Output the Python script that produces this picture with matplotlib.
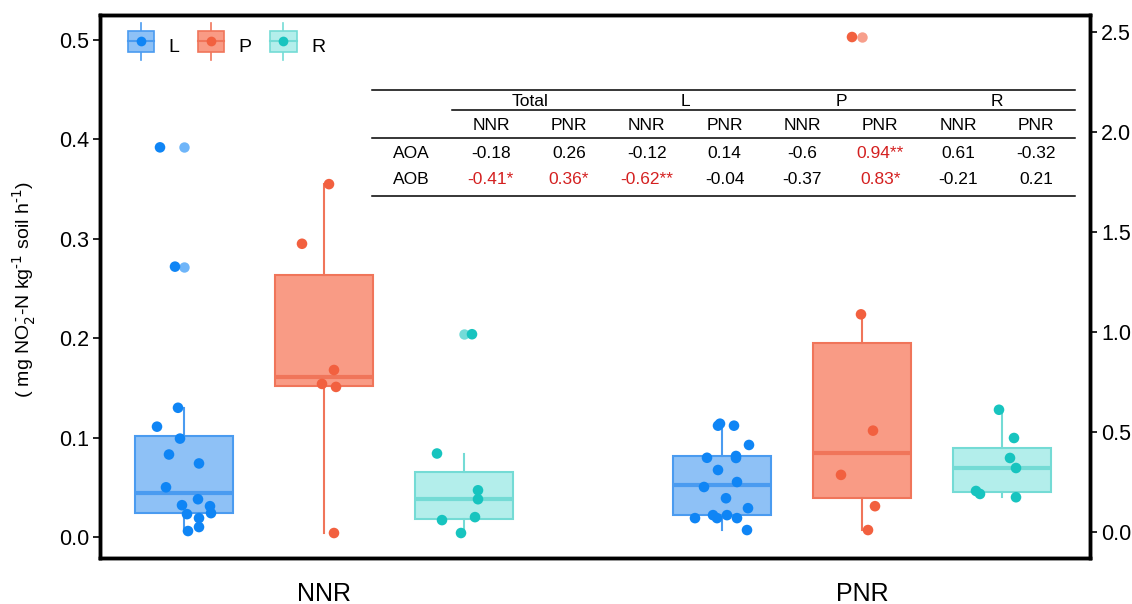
import matplotlib
matplotlib.use("Agg")
import matplotlib.pyplot as plt
from matplotlib.patches import Rectangle
from matplotlib.lines import Line2D
from matplotlib.legend_handler import HandlerBase
import numpy as np

plt.rcParams['font.family'] = ['Liberation Sans', 'DejaVu Sans']

# ---------------- data ----------------
groups = ["NNR", "PNR"]
series = ["L", "P", "R"]

nnr_L = [0.392, 0.272, 0.130, 0.111, 0.099, 0.083, 0.074, 0.050, 0.038, 0.032,
         0.031, 0.024, 0.023, 0.019, 0.010, 0.006]
nnr_P = [0.355, 0.295, 0.168, 0.154, 0.151, 0.004]
nnr_R = [0.204, 0.084, 0.047, 0.038, 0.020, 0.017, 0.004]
pnr_L = [0.114, 0.112, 0.112, 0.0926, 0.0815, 0.0797, 0.0795, 0.0674, 0.0553,
         0.0503, 0.039, 0.029, 0.022, 0.022, 0.019, 0.019, 0.019, 0.007]
pnr_P = [0.503, 0.224, 0.107, 0.0625, 0.031, 0.007]
pnr_R = [0.128, 0.0996, 0.0795, 0.0694, 0.0463, 0.0433, 0.040]

# horizontal jitter of each point (pixels from box centre)
jit_nnr_L = [-24, -9, -6, -27, -4, -15, 15, -18, 14, -2, 26, 27, 3, 15, 15, 4]
jit_nnr_P = [5, -22, 10, -2, 12, 10]
jit_nnr_R = [8, -27, 14, 14, 11, -22, -3]
jit_pnr_L = [-2, -4, 12, 27, 14, -15, 14, -4, 15, -18, 4, 26, -9, 5, -27, -5, 15, 25]
jit_pnr_P = [-10, -1, 11, -21, 13, 6]
jit_pnr_R = [-3, 12, 8, 14, -26, -22, 14]

# correlation table
tab_groups = ["Total", "L", "P", "R"]
tab_sub = ["NNR", "PNR"] * 4
tab_rows = ["AOA", "AOB"]
tab_AOA = ["-0.18", "0.26", "-0.12", "0.14", "-0.6", "0.94**", "0.61", "-0.32"]
tab_AOB = ["-0.41*", "0.36*", "-0.62**", "-0.04", "-0.37", "0.83*", "-0.21", "0.21"]

left_ticks = [0.0, 0.1, 0.2, 0.3, 0.4, 0.5]
right_ticks = [0.0, 0.5, 1.0, 1.5, 2.0, 2.5]

# ---------------- styles ----------------
face = {"L": "#8EC1F6", "P": "#F99B85", "R": "#B3EEEB"}
edge = {"L": "#4A9BF0", "P": "#F0755A", "R": "#74DBD5"}
pt = {"L": "#0F85F5", "P": "#F2603F", "R": "#17C4BF"}

data = {("NNR", "L"): (nnr_L, jit_nnr_L), ("NNR", "P"): (nnr_P, jit_nnr_P),
        ("NNR", "R"): (nnr_R, jit_nnr_R), ("PNR", "L"): (pnr_L, jit_pnr_L),
        ("PNR", "P"): (pnr_P, jit_pnr_P), ("PNR", "R"): (pnr_R, jit_pnr_R)}

PX = 538.0  # pixels per group unit
offsets = {"L": -140 / PX, "P": 0.0, "R": 140 / PX}
box_w = 98 / PX

W, H = 1132, 604
fig = plt.figure(figsize=(W / 100, H / 100), dpi=100)
ax = fig.add_axes([100 / W, 1 - 558 / H, 990 / W, 543 / H])

for gi, g in enumerate(groups):
    for s in series:
        vals, jit = data[(g, s)]
        pos = gi + offsets[s]
        ax.boxplot([vals], positions=[pos], widths=box_w, patch_artist=True,
                   showcaps=False, whis=1.5,
                   boxprops=dict(facecolor=face[s], edgecolor=edge[s], linewidth=1.5),
                   whiskerprops=dict(color=edge[s], linewidth=1.5),
                   medianprops=dict(color=edge[s], linewidth=3),
                   flierprops=dict(marker="o", markerfacecolor=pt[s], markeredgecolor="none",
                                   markersize=7.5, alpha=0.6),
                   manage_ticks=False, zorder=2)
        xs = [pos + j / PX for j in jit]
        ax.scatter(xs, vals, s=58, color=pt[s], edgecolors="none", zorder=3)

ax.set_xlim((100 - 324) / PX, (1090 - 324) / PX)
ax.set_ylim((537 - 558) / 994, (537 - 15) / 994)
ax.set_yticks(left_ticks)
ax.set_yticklabels([f"{v:.1f}" for v in left_ticks])
ax.set_xticks(range(len(groups)))
ax.set_xticklabels(groups, fontsize=18)
ax.tick_params(axis="x", length=0, pad=17)
ax.tick_params(axis="y", direction="out", length=5, width=1.2, labelsize=15.5, pad=3)
for sp in ax.spines.values():
    sp.set_linewidth(2.5)

ax2 = ax.twinx()
ax2.set_ylim((532 - 558) / 200, (532 - 15) / 200)
ax2.set_yticks(right_ticks)
ax2.set_yticklabels([f"{v:.1f}" for v in right_ticks])
ax2.tick_params(axis="y", direction="out", length=5, width=1.2, labelsize=15.5, pad=3)
for sp in ax2.spines.values():
    sp.set_linewidth(2.5)

fig.text(24 / W, 1 - 290 / H, "( mg NO$_2^{\\,\\text{-}}$-N kg$^{\\text{-1}}$ soil h$^{\\text{-1}}$)",
         rotation=90, ha="center", va="center", fontsize=14)


# ---------------- legend ----------------
class BoxKeyHandler(HandlerBase):
    def create_artists(self, legend, orig, xd, yd, width, height, fontsize, trans):
        s = orig.get_label()
        cx = xd + width / 2
        cy = yd + height / 2
        bw, bh = width * 1.0, height * 1.25
        r = Rectangle((cx - bw / 2, cy - bh / 2), bw, bh, facecolor=face[s],
                      edgecolor=edge[s], linewidth=1.2, transform=trans)
        v = Line2D([cx, cx], [cy - bh * 0.85, cy + bh * 0.85], color=edge[s], lw=1.2,
                   transform=trans)
        hl = Line2D([cx - bw / 2, cx + bw / 2], [cy, cy], color=edge[s], lw=1.5,
                    transform=trans)
        d = Line2D([cx], [cy], marker="o", markersize=7, color=pt[s], markeredgecolor="none",
                   transform=trans)
        return [v, r, hl, d]


handles = [Line2D([], [], label=s) for s in series]
ax.legend(handles=handles, labels=series, handler_map={h: BoxKeyHandler() for h in handles},
          loc="upper left", bbox_to_anchor=(20 / 990, 1 - 14 / 543), ncol=3, frameon=False,
          fontsize=14, handlelength=1.35, handleheight=1.0, columnspacing=0.95,
          handletextpad=0.75, borderaxespad=0)

# ---------------- table ----------------
tfont = dict(family=["Liberation Sans Narrow", "Liberation Sans", "DejaVu Sans"], fontsize=12.5)


def fx(x):
    return x / W


def fy(y):
    return 1 - y / H


x0, x1 = 372, 1075
col0 = 452
cw = (x1 - col0) / 8
for y, xa in [(90, x0), (110, col0), (138, x0), (196, x0)]:
    fig.add_artist(Line2D([fx(xa), fx(x1)], [fy(y), fy(y)], color="black", lw=1.1))
for i, g in enumerate(tab_groups):
    fig.text(fx(col0 + cw * (2 * i + 1)), fy(101), g, ha="center", va="center", **tfont)
for i, s in enumerate(tab_sub):
    fig.text(fx(col0 + cw * (i + 0.5)), fy(125), s, ha="center", va="center", **tfont)
for r, (lab, row, y) in enumerate(zip(tab_rows, [tab_AOA, tab_AOB], [153, 180])):
    fig.text(fx(393), fy(y), lab, ha="left", va="center", **tfont)
    for i, v in enumerate(row):
        col = "#D42020" if "*" in v else "black"
        fig.text(fx(col0 + cw * (i + 0.5)), fy(y), v, ha="center", va="center", color=col,
                 **tfont)

fig.savefig("out.png", dpi=100)
